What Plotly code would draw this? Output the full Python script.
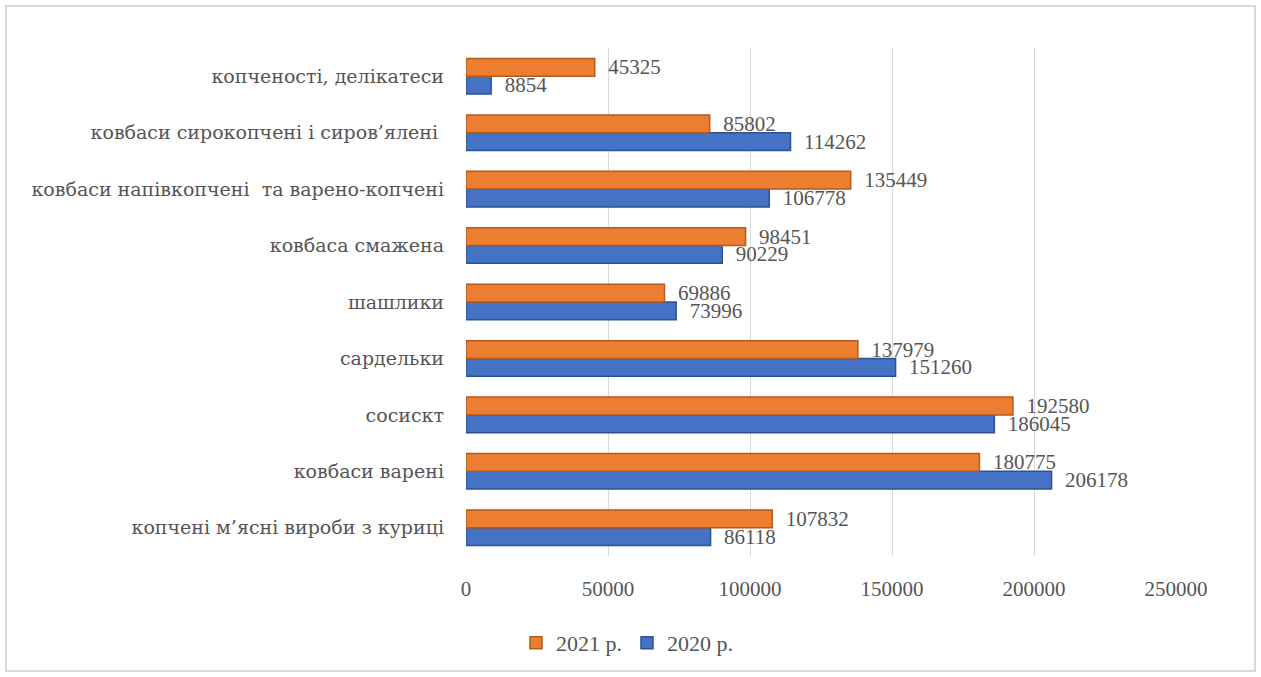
import plotly.graph_objects as go

categories = [
    "копчені м’ясні вироби з куриці",
    "ковбаси варені",
    "сосискт",
    "сардельки",
    "шашлики",
    "ковбаса смажена",
    "ковбаси напівкопчені  та варено-копчені",
    "ковбаси сирокопчені і сиров’ялені ",
    "копченості, делікатеси",
]
values_2020 = [86118, 206178, 186045, 151260, 73996, 90229, 106778, 114262, 8854]
values_2021 = [107832, 180775, 192580, 137979, 69886, 98451, 135449, 85802, 45325]
x_ticks = [0, 50000, 100000, 150000, 200000, 250000]

FONT = "Liberation Serif"
CYR_FONT = "DejaVu Serif"
TXT = "#555555"

fig = go.Figure()
fig.add_trace(go.Bar(
    y=categories, x=values_2020, orientation="h", name="2020 р.",
    marker=dict(color="#4472C4", line=dict(color="#2F528F", width=1.5)),
    text=[f"\u00a0\u00a0{v}" for v in values_2020], textposition="outside",
    constraintext="none",
    textfont=dict(family=FONT, size=21, color=TXT), cliponaxis=False,
))
fig.add_trace(go.Bar(
    y=categories, x=values_2021, orientation="h", name="2021 р.",
    marker=dict(color="#ED7D31", line=dict(color="#B35A1F", width=1.5)),
    text=[f"\u00a0\u00a0{v}" for v in values_2021], textposition="outside",
    constraintext="none",
    textfont=dict(family=FONT, size=21, color=TXT), cliponaxis=False,
))

W, H = 1261, 677
L, R, T, B = 466, 85, 48, 121
pw, ph = W - L - R, H - T - B

def px(x):
    return (x - L) / pw

def py(y):
    return (H - B - y) / ph

fig.update_layout(
    width=W, height=H,
    margin=dict(l=L, r=R, t=T, b=B, autoexpand=False),
    paper_bgcolor="white", plot_bgcolor="white",
    barmode="group", bargap=0.37, bargroupgap=0,
    font=dict(family=FONT, color=TXT),
    xaxis=dict(
        range=[0, 250000], tickvals=x_ticks, ticktext=[str(v) for v in x_ticks],
        showgrid=True, gridcolor="#d9d9d9", gridwidth=1, zeroline=False,
        showline=False, ticks="", ticklabelstandoff=18, automargin=False,
        tickfont=dict(family=FONT, size=21, color=TXT),
    ),
    yaxis=dict(
        showgrid=False, showline=False, ticks="", ticklabelstandoff=21,
        automargin=False,
        tickfont=dict(family=CYR_FONT, size=19, color=TXT),
    ),
    showlegend=True,
    legend=dict(
        orientation="h", x=px(516), xanchor="left", y=py(643), yanchor="middle",
        traceorder="reversed", font=dict(family="Liberation Serif, DejaVu Serif", size=22, color=TXT),
        itemwidth=30,
    ),
    shapes=[dict(
        type="rect", xref="paper", yref="paper",
        x0=px(6), x1=px(1255), y0=py(671), y1=py(6),
        line=dict(color="#d9d9d9", width=2), fillcolor="rgba(0,0,0,0)", layer="below",
    )],
)

fig.write_html("out.html", config={"displayModeBar": False},
               post_script="document.body.style.margin='0';")
